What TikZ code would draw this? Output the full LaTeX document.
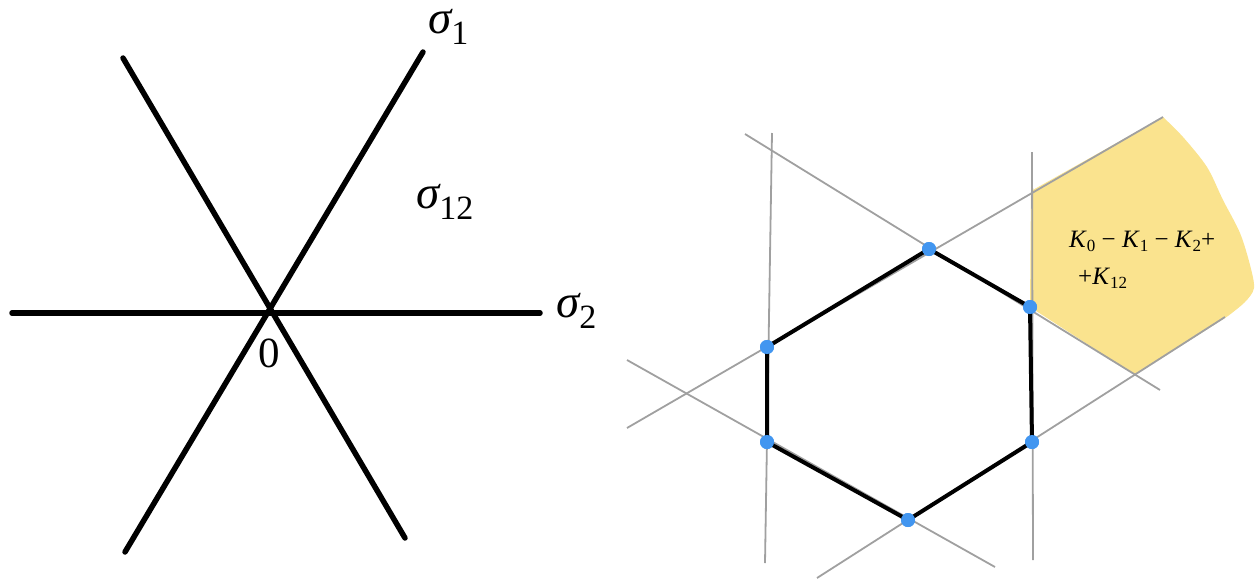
\documentclass[tikz,border=0pt]{standalone}
\usepackage{fontspec}
\setmainfont{Liberation Serif}
\definecolor{hexblue}{RGB}{66,150,240}
\definecolor{fillyellow}{RGB}{250,227,142}
\definecolor{lgray}{RGB}{160,160,160}
\newcommand{\bigsig}[1]{\smash{{\fontsize{47}{52}\selectfont\itshape σ}\raisebox{-11pt}{\fontsize{34}{38}\selectfont #1}}}
\newcommand{\smK}[1]{\textit{K}\raisebox{-4pt}{\fontsize{17}{19}\selectfont #1}}
\begin{document}
\begin{tikzpicture}[x=1pt,y=-1pt,
  axis/.style={line width=5.5pt,line cap=round},
  grayline/.style={draw=lgray,line width=1.8pt},
  hexedge/.style={line width=4pt,line join=round},
  dot/.style={circle,fill=hexblue,inner sep=0pt,minimum size=14pt},
  lbl/.style={anchor=base west,inner sep=0pt}]
\useasboundingbox (0,0) rectangle (1256,587);
% ---------- left: three lines through 0
\coordinate (hl) at (12,313);
\coordinate (hr) at (540,313);
\coordinate (a1) at (423,52);
\coordinate (a2) at (125,552);
\coordinate (b1) at (123,58);
\coordinate (b2) at (405,538);
\draw[axis] (hl) -- (hr);
\draw[axis] (a2) -- (a1);
\draw[axis] (b1) -- (b2);
\node[lbl] (s1) at (428,33) {\bigsig{1}};
\node[lbl] (s12) at (416,208) {\bigsig{12}};
\node[lbl] (s2) at (556,317) {\bigsig{2}};
\node[lbl] (zero) at (258,367) {\fontsize{43}{48}\selectfont 0};
% ---------- right: yellow region
\fill[fillyellow] (1031,191) -- (1163,117)
  -- plot[smooth] coordinates {(1163,117) (1183,137) (1207,167) (1223,200) (1240,233) (1250,265) (1254,288) (1245,302) (1228,316)}
  -- (1135,375) -- (1030,307) -- cycle;
% gray lines
\coordinate (g1a) at (772,133);  \coordinate (g1b) at (765,563);
\coordinate (g2a) at (1032,152); \coordinate (g2b) at (1033,560);
\coordinate (g3a) at (745,134);  \coordinate (g3b) at (1160,390);
\coordinate (g4a) at (627,428);  \coordinate (g4b) at (1163,117);
\coordinate (g5a) at (627,360);  \coordinate (g5b) at (995,567);
\coordinate (g6a) at (817,578);  \coordinate (g6b) at (1225,317);
\foreach \l in {1,...,6}{\draw[grayline] (g\l a) -- (g\l b);}
% hexagon
\node[dot] (T)  at (929,249) {};
\node[dot] (UR) at (1030,307) {};
\node[dot] (LR) at (1032,442) {};
\node[dot] (B)  at (908,520) {};
\node[dot] (LL) at (767,442) {};
\node[dot] (UL) at (767,347) {};
\draw[hexedge] (T.center) -- (UR.center) -- (LR.center) -- (B.center) -- (LL.center) -- (UL.center) -- cycle;
\foreach \n in {T,UR,LR,B,LL,UL}{\fill[hexblue] (\n) circle (7pt);}
% label
\node[lbl] (k1) at (1069,247) {\fontsize{25}{29}\selectfont \smK{0} − \smK{1} − \smK{2}+};
\node[lbl] (k2) at (1078,284) {\fontsize{25}{29}\selectfont +\smK{12}};
\end{tikzpicture}
\end{document}
